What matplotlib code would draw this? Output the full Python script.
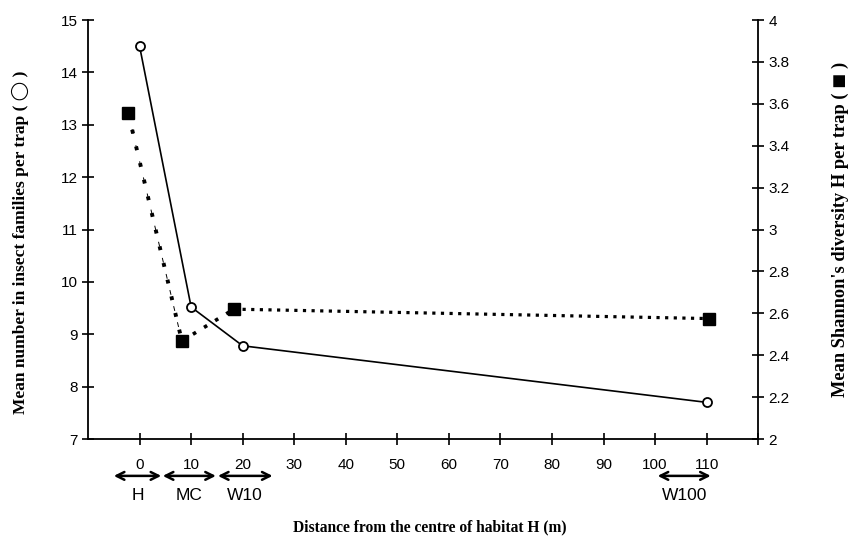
import matplotlib
matplotlib.use("Agg")
from matplotlib import pyplot as plt

# open circles: mean number of insect families per trap (left axis)
fam_x = [0, 10, 20, 110]
fam_y = [14.5, 9.52, 8.78, 7.70]

# filled squares: mean Shannon diversity H per trap (right axis)
div_x = [-2.2, 8.2, 18.3, 110.4]
div_y = [3.556, 2.468, 2.62, 2.575]

xticks = list(range(0, 130, 10))
xlabels = [str(v) for v in range(0, 120, 10)] + [""]
left_ticks = list(range(7, 16))
right_ticks = [2, 2.2, 2.4, 2.6, 2.8, 3, 3.2, 3.4, 3.6, 3.8, 4]

# zones under the distance axis
zones = ["H", "MC", "W10", "W100"]
zone_from = [-5, 4.5, 15.2, 100.5]
zone_to = [4.2, 14.8, 25.8, 110.8]

sans = "Liberation Sans"
serif = ["Liberation Serif", "DejaVu Sans"]

fig = plt.figure(figsize=(8.49, 5.43), dpi=100)
ax = fig.add_axes([0.1037, 0.1915, 0.7893, 0.7715])
ax2 = ax.twinx()

ax.set_xlim(-10, 120)
ax.set_ylim(7, 15)
ax2.set_ylim(2, 4)

for a in (ax, ax2):
    a.spines["top"].set_visible(False)
    for s in a.spines.values():
        s.set_linewidth(1.3)
ax.spines["right"].set_visible(False)
ax2.spines["left"].set_visible(False)
ax2.spines["bottom"].set_visible(False)

ax.set_xticks(xticks)
ax.set_xticklabels(xlabels, fontfamily=sans, fontsize=11)
ax.set_yticks(left_ticks)
ax.set_yticklabels([str(v) for v in left_ticks], fontfamily=sans, fontsize=11)
ax2.set_yticks(right_ticks)
ax2.set_yticklabels(["%g" % v for v in right_ticks], fontfamily=sans, fontsize=11)

ax.tick_params(axis="x", direction="inout", length=9, width=1.2, pad=9)
ax.tick_params(axis="y", direction="inout", length=9, width=1.2, pad=3)
ax2.tick_params(axis="y", direction="inout", length=9, width=1.2, pad=3)

# diversity: heavy dotted line, sparser dots and thin dashes on the first drop
ax2.plot(div_x[:2], div_y[:2], color="black", linewidth=2.8, dashes=(1, 3.4),
         dash_capstyle="butt", zorder=2)
ax2.plot(div_x[:2], div_y[:2], color="black", linewidth=0.7, dashes=(5, 12),
         zorder=2)
ax2.plot(div_x[1:3], div_y[1:3], color="black", linewidth=2.6, dashes=(1, 2.6),
         dash_capstyle="butt", zorder=2)
ax2.plot(div_x[2:], div_y[2:], color="black", linewidth=2.3, dashes=(1, 1.7),
         dash_capstyle="butt", zorder=2)
ax2.plot(div_x, div_y, linestyle="none", marker="s", markersize=8.5,
         color="black", zorder=3)

# families: solid line with open circles
ax2.set_zorder(ax.get_zorder() - 1)
ax.patch.set_visible(False)
ax.plot(fam_x, fam_y, color="black", linewidth=1.2, marker="o",
        markersize=6.5, markerfacecolor="white", markeredgewidth=1.3, zorder=4)

for name, x0, x1 in zip(zones, zone_from, zone_to):
    ax.annotate("", xy=(x0, -0.088), xytext=(x1, -0.088),
                xycoords=("data", "axes fraction"),
                textcoords=("data", "axes fraction"),
                arrowprops=dict(arrowstyle="<->", lw=1.8, color="black",
                                mutation_scale=14, shrinkA=0, shrinkB=0),
                annotation_clip=False)
    ax.text((x0 + x1) / 2, -0.135, name, transform=ax.get_xaxis_transform(),
            ha="center", va="center", fontfamily=sans, fontsize=12.5)

ax.set_xlabel("Distance from the centre of habitat H (m)", fontfamily=serif,
              fontweight="bold", fontsize=11.2)
ax.xaxis.set_label_coords(0.51, -0.193)
ax.set_ylabel("Mean number in insect families per trap ( \u25ef )",
              fontfamily=serif, fontweight="bold", fontsize=12.5)
ax.yaxis.set_label_coords(-0.088, 0.47)
ax2.set_ylabel("Mean Shannon's diversity H per trap ( \u25fc )",
               fontfamily=serif, fontweight="bold", fontsize=13.2, rotation=90)
ax2.yaxis.set_label_coords(1.109, 0.5)

fig.savefig("out.png", dpi=100)
